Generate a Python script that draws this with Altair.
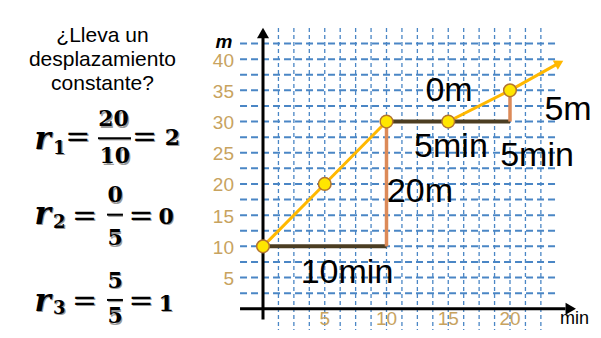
import altair as alt
import pandas as pd

# ---------------- data ----------------
time_min = [0, 5, 10, 15, 20]
dist_m = [10, 20, 30, 30, 35]
arrow_tip_x, arrow_tip_y = 23.99, 39.4          # end of the trend arrow

# run segments (dark) and rise segments (orange-brown)
run_x, run_x2, run_y = [0, 10], [10, 20], [10, 30]
rise_x, rise_y, rise_y2 = [10, 20], [10, 30], [30, 35]

y_ticks = [5, 10, 15, 20, 25, 30, 35, 40]
x_ticks = [5, 10, 15, 20]
h_grid = [2.5, 5, 7.5, 10, 12.5, 15, 17.5, 20, 22.5, 25, 27.5, 30, 32.5, 35, 37.5, 40, 42.5]
v_grid = [1.25, 2.5, 3.75, 5, 6.25, 7.5, 8.75, 10, 11.25, 12.5, 13.75, 15,
          16.25, 17.5, 18.75, 20, 21.25, 22.5]

annot_text = ["10min", "20m", "0m", "5m", "5min", "5min"]
annot_x = [6.80, 12.71, 15.06, 24.70, 15.22, 22.19]
annot_y = [4.06, 17.03, 33.28, 30.31, 24.375, 22.81]

header_lines = ["¿Lleva un", "desplazamiento", "constante?"]
header_y = [42.7, 38.9, 35.1]

# formula pieces
r_sub = ["1", "2", "3"]
row_eq_y = [27.5, 14.84, 1.25]
r_y = [25.625, 13.59, -0.31]
sub_y = [24.84, 12.97, -0.78]
numer = ["20", "0", "5"]
numer_y = [29.22, 17.03, 3.28]
denom = ["10", "5", "5"]
denom_y = [23.28, 10.16, -2.34]
result = ["2", "0", "1"]
bar_y = [27.34, 15.08, 1.41]

# ---------------- scales ----------------
W, H = 585, 322
PX_X, PX_Y = 12.35, 6.24          # pixels per data unit
X0, Y0 = 255, 300.75              # plot-pixel position of the origin
XMIN, XMAX = -X0 / PX_X, (W - X0) / PX_X
YMIN, YMAX = -(H - Y0) / PX_Y, Y0 / PX_Y
XS = alt.Scale(domain=[XMIN, XMAX], nice=False, zero=False)
YS = alt.Scale(domain=[YMIN, YMAX], nice=False, zero=False)


def X(f="x"):
    return alt.X(f + ":Q", scale=XS, axis=None)


def Y(f="y"):
    return alt.Y(f + ":Q", scale=YS, axis=None)


GRID = "#4A86C5"
TAN = "#C8A35F"

layers = []

# grid
hg = pd.DataFrame({"y": h_grid, "x": [-1.86] * len(h_grid), "x2": [23.8] * len(h_grid)})
layers.append(alt.Chart(hg).mark_rule(color=GRID, strokeWidth=2, strokeDash=[7, 4]).encode(
    x=X(), x2="x2:Q", y=Y()))
vg = pd.DataFrame({"x": v_grid, "y": [45.0] * len(v_grid), "y2": [-3.4] * len(v_grid)})
layers.append(alt.Chart(vg).mark_rule(color=GRID, strokeWidth=1.3, strokeDash=[4, 3]).encode(
    x=X(), y=Y(), y2="y2:Q"))

# axes
ax = pd.DataFrame({"x": [0, -1.86], "x2": [0, 24.5], "y": [-1.72, 0], "y2": [43.6, 0]})
layers.append(alt.Chart(ax).mark_rule(color="black", strokeWidth=3).encode(
    x=X(), x2="x2:Q", y=Y(), y2="y2:Q"))
arr = pd.DataFrame({"x": [0, 24.92], "y": [44.19, 0], "shape": ["triangle-up", "triangle-right"]})
layers.append(alt.Chart(arr).mark_point(filled=True, color="black", size=144, opacity=1).encode(
    x=X(), y=Y(), shape=alt.Shape("shape:N", scale=None)))

# tick labels
yt = pd.DataFrame({"y": y_ticks, "t": [str(v) for v in y_ticks], "x": [-2.35] * len(y_ticks)})
layers.append(alt.Chart(yt).mark_text(align="right", baseline="middle", dy=1.5, fontSize=19,
                                      font="Liberation Sans", color=TAN).encode(
    x=X(), y=Y(), text="t:N"))
xt = pd.DataFrame({"x": x_ticks, "t": [str(v) for v in x_ticks], "y": [-1.64] * len(x_ticks)})
layers.append(alt.Chart(xt).mark_text(align="center", baseline="middle", fontSize=19,
                                      font="Liberation Sans", color=TAN).encode(
    x=X(), y=Y(), text="t:N"))

# axis titles
layers.append(alt.Chart(pd.DataFrame({"x": [-3.16], "y": [42.8], "t": ["m"]})).mark_text(
    align="center", baseline="middle", fontSize=19, font="Liberation Sans", fontStyle="italic",
    fontWeight="bold", color="black").encode(x=X(), y=Y(), text="t:N"))
layers.append(alt.Chart(pd.DataFrame({"x": [24.05], "y": [-2.5], "t": ["min"]})).mark_text(
    align="left", baseline="alphabetic", fontSize=18, font="Liberation Sans",
    color="black").encode(x=X(), y=Y(), text="t:N"))

# trend line with arrow
tl = pd.DataFrame({"x": time_min + [arrow_tip_x], "y": dist_m + [arrow_tip_y],
                   "o": list(range(len(time_min) + 1))})
layers.append(alt.Chart(tl).mark_line(color="#FFB800", strokeWidth=3).encode(
    x=X(), y=Y(), order="o:Q"))
layers.append(alt.Chart(pd.DataFrame({"x": [arrow_tip_x], "y": [arrow_tip_y]})).mark_point(
    shape="triangle-up", angle=61, filled=True, color="#FFB800", size=110, opacity=1).encode(
    x=X(), y=Y()))

# run / rise segments
runs = pd.DataFrame({"x": run_x, "x2": run_x2, "y": run_y})
layers.append(alt.Chart(runs).mark_rule(color="#4B3D22", strokeWidth=4).encode(
    x=X(), x2="x2:Q", y=Y()))
rises = pd.DataFrame({"x": rise_x, "y": rise_y, "y2": rise_y2})
layers.append(alt.Chart(rises).mark_rule(color="#DC8A58", strokeWidth=3.5).encode(
    x=X(), y=Y(), y2="y2:Q"))

# points
pts = pd.DataFrame({"x": time_min, "y": dist_m})
layers.append(alt.Chart(pts).mark_point(shape="circle", filled=True, fill="#FFE600",
                                        stroke="#B3752F", strokeWidth=1.5, size=160,
                                        opacity=1).encode(x=X(), y=Y()))

# annotations
an = pd.DataFrame({"x": annot_x, "y": annot_y, "t": annot_text})
layers.append(alt.Chart(an).mark_text(align="center", baseline="alphabetic", fontSize=34,
                                      font="Liberation Sans", color="black").encode(
    x=X(), y=Y(), text="t:N"))

# header text (left)
hd = pd.DataFrame({"x": [-13.0] * 3, "y": header_y, "t": header_lines})
layers.append(alt.Chart(hd).mark_text(align="center", baseline="alphabetic", fontSize=21,
                                      font="Liberation Sans", color="black").encode(
    x=X(), y=Y(), text="t:N"))

# formulas
rows = []
for i in range(3):
    rows.append({"x": -17.85, "y": r_y[i], "t": "r", "k": "r"})
    rows.append({"x": -16.5, "y": sub_y[i], "t": r_sub[i], "k": "sub"})
    rows.append({"x": -15.0 if i == 0 else -14.45, "y": row_eq_y[i], "t": "=", "k": "eq"})
    rows.append({"x": -9.6 if i == 0 else -9.88, "y": row_eq_y[i], "t": "=", "k": "eq"})
    rows.append({"x": -12.1 if i == 0 else -11.98, "y": numer_y[i], "t": numer[i], "k": "d"})
    rows.append({"x": -12.0 if i == 0 else -11.98, "y": denom_y[i], "t": denom[i], "k": "d"})
    rows.append({"x": -7.33 if i == 0 else -7.85, "y": r_y[i] + (0.62 if i == 0 else 0.0),
                 "t": result[i], "k": "d"})
fm = pd.DataFrame(rows)
bars = pd.DataFrame({"x": [-13.36, -12.63, -12.63], "x2": [-10.69, -11.34, -11.34], "y": bar_y})

styles = {
    "r": dict(fontSize=31, fontStyle="italic", fontWeight="bold", baseline="alphabetic"),
    "sub": dict(fontSize=18, fontWeight="bold", baseline="alphabetic"),
    "eq": dict(fontSize=30, fontWeight="normal", baseline="middle"),
    "d": dict(fontSize=22, fontWeight="bold", baseline="alphabetic"),
}
for shadow in (True, False):
    col = "#9A9A9A" if shadow else "black"
    off = 1.2 if shadow else 0
    layers.append(alt.Chart(bars).mark_rule(color=col, strokeWidth=2, xOffset=off,
                                            yOffset=off).encode(x=X(), x2="x2:Q", y=Y()))
    for k, st in styles.items():
        layers.append(alt.Chart(fm[fm.k == k]).mark_text(
            align="center", font="DejaVu Serif", color=col, dx=off, dy=off, **st).encode(
            x=X(), y=Y(), text="t:N"))

chart = alt.layer(*layers).properties(
    width=W, height=H, padding=0, background="white",
    autosize=alt.AutoSizeParams(type="none"),
).configure_view(stroke=None)

chart.save("out.html", embed_options={"renderer": "svg", "actions": False})
